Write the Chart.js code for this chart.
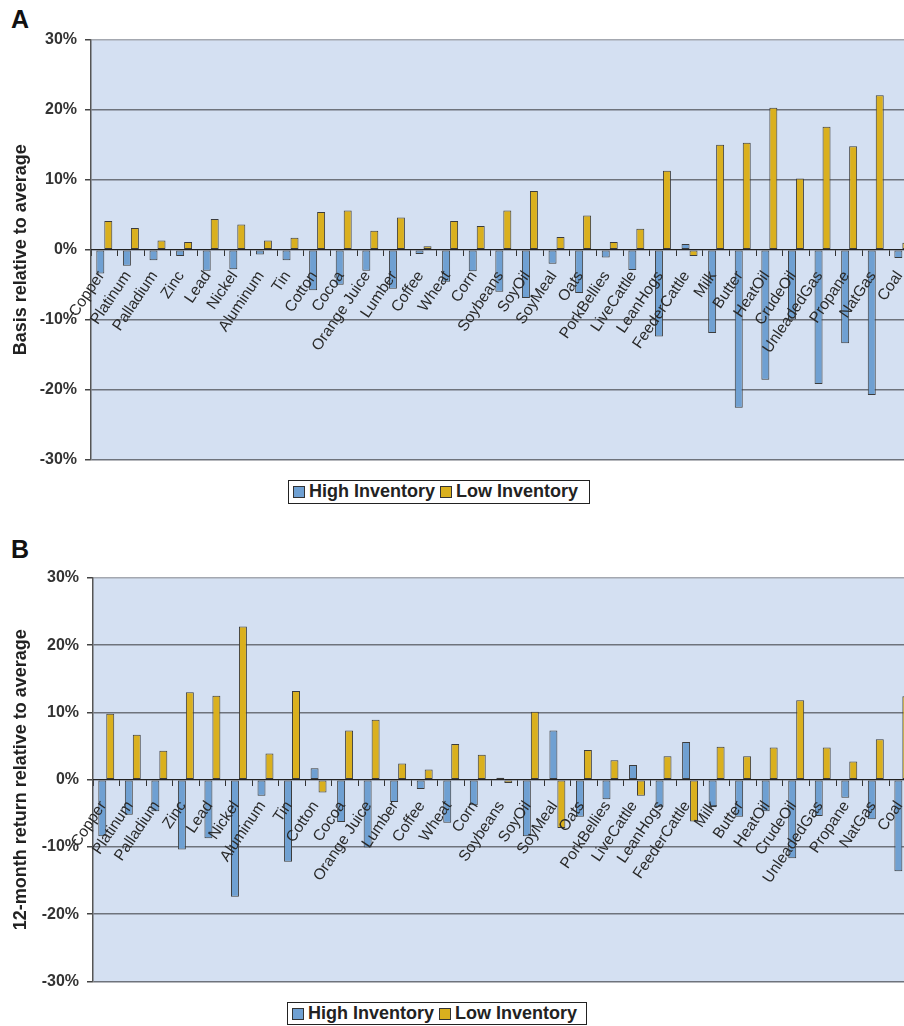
<!DOCTYPE html>
<html lang="en">
<head>
<meta charset="UTF-8">
<title>Inventory - basis and returns</title>
<script src="https://cdn.jsdelivr.net/npm/chart.js@4.4.0/dist/chart.umd.min.js"></script>
<style>
    body {
        margin: 0;
        width: 904px;
        height: 1026px;
        overflow: hidden;
        position: relative;
        background: #fff;
        font-family: "Liberation Sans", Arial, sans-serif;
    }
    .letter {
        position: absolute;
        left: 11px;
        font-size: 25px;
        font-weight: bold;
        color: #111;
        line-height: 1;
    }
    .box {
        position: absolute;
        left: 0;
        width: 930px;
    }
    .legend {
        position: absolute;
        box-sizing: border-box;
        border: 1px solid #222;
        font-size: 18px;
        font-weight: bold;
        color: #222;
        line-height: 20px;
        padding-left: 4px;
        white-space: nowrap;
    }
    .legend i {
        display: inline-block;
        width: 10px;
        height: 10px;
        border: 1px solid #333;
        margin-right: 4px;
        vertical-align: -1px;
    }
</style>
</head>
<body>
    <div class="letter" style="top:7px;">A</div>
    <div class="box" style="top:0;"><canvas id="chartA" width="930" height="477"></canvas></div>
    <div class="legend" style="left:288px;top:480px;width:302px;height:24px;">
        <i style="background:#6FA0D2"></i>High Inventory <i style="background:#DAB01E"></i>Low Inventory
    </div>

    <div class="letter" style="top:537px;">B</div>
    <div class="box" style="top:530px;"><canvas id="chartB" width="930" height="469"></canvas></div>
    <div class="legend" style="left:287px;top:1002px;width:300px;height:23px;">
        <i style="background:#6FA0D2"></i>High Inventory <i style="background:#DAB01E"></i>Low Inventory
    </div>

<script>
    var categories = ['Copper', 'Platinum', 'Palladium', 'Zinc', 'Lead', 'Nickel', 'Aluminum', 'Tin',
        'Cotton', 'Cocoa', 'Orange Juice', 'Lumber', 'Coffee', 'Wheat', 'Corn', 'Soybeans', 'SoyOil',
        'SoyMeal', 'Oats', 'PorkBellies', 'LiveCattle', 'LeanHogs', 'FeederCattle', 'Milk', 'Butter',
        'HeatOil', 'CrudeOil', 'UnleadedGas', 'Propane', 'NatGas', 'Coal'];

    // panel A - basis (%)
    var basisHigh = [-3.4, -2.3, -1.5, -0.9, -3.0, -2.8, -0.7, -1.5, -5.8, -5.0, -3.0, -5.6, -0.6, -4.6,
        -3.1, -6.0, -6.9, -2.0, -6.2, -1.1, -2.9, -12.4, 0.8, -11.9, -22.6, -18.6, -10.0, -19.2, -13.4, -20.8, -1.2];
    var basisLow = [4.1, 3.1, 1.3, 1.1, 4.4, 3.6, 1.3, 1.7, 5.4, 5.6, 2.7, 4.6, 0.5, 4.1,
        3.4, 5.6, 8.4, 1.8, 4.9, 1.1, 3.0, 11.3, -0.9, 15.0, 15.3, 20.3, 10.2, 17.6, 14.8, 22.1, 1.0];

    // panel B - 12-month return (%)
    var returnHigh = [-8.4, -5.2, -4.7, -10.4, -8.7, -17.4, -2.4, -12.2, 1.7, -6.3, -10.1, -3.3, -1.4, -6.4,
        -3.8, 0.3, -8.4, 7.3, -5.5, -2.9, 2.2, -4.1, 5.6, -4.1, -5.5, -4.7, -11.7, -5.4, -2.7, -5.9, -13.6];
    var returnLow = [9.8, 6.7, 4.3, 13.0, 12.5, 22.8, 3.9, 13.2, -1.9, 7.3, 8.9, 2.4, 1.5, 5.3,
        3.7, -0.5, 10.1, -7.2, 4.4, 2.9, -2.4, 3.5, -6.2, 4.9, 3.5, 4.8, 11.8, 4.8, 2.7, 6.0, 12.4];

    var yMin = -30, yMax = 30, yStep = 10;

    Chart.defaults.font.family = '"Liberation Sans", Arial, sans-serif';

    // light blue plot background
    var plotBg = {
        id: 'plotBg',
        beforeDraw: function(chart) {
            var a = chart.chartArea, ctx = chart.ctx;
            ctx.save();
            ctx.fillStyle = '#D4E0F2';
            ctx.fillRect(a.left, a.top, a.right - a.left, a.bottom - a.top);
            ctx.restore();
        }
    };

    function makeChart(id, high, low, yTitle, pad, axisWidth) {
        return new Chart(document.getElementById(id), {
            type: 'bar',
            data: {
                labels: categories,
                datasets: [{
                    label: 'High Inventory',
                    data: high,
                    backgroundColor: '#6FA0D2',
                    borderColor: '#3c3c3c',
                    borderWidth: 1,
                    borderSkipped: false
                }, {
                    label: 'Low Inventory',
                    data: low,
                    backgroundColor: '#DAB01E',
                    borderColor: '#3c3c3c',
                    borderWidth: 1,
                    borderSkipped: false
                }]
            },
            options: {
                responsive: false,
                animation: false,
                datasets: { bar: { categoryPercentage: 0.6, barPercentage: 1.0 } },
                layout: { padding: pad },
                plugins: { legend: { display: false }, tooltip: { enabled: false } },
                scales: {
                    x: {
                        position: { y: 0 },
                        offset: true,
                        grid: { display: true, drawOnChartArea: false, offset: true, tickLength: 6, color: '#333' },
                        border: { color: '#222', width: 1, z: 1 },
                        ticks: {
                            z: 1,
                            autoSkip: false, minRotation: 56, maxRotation: 56, padding: 12, labelOffset: -3,
                            color: '#2a2a2a', font: { size: 15.5 }
                        }
                    },
                    y: {
                        min: yMin, max: yMax,
                        afterFit: function(s) { s.width = axisWidth; },
                        grid: {
                            color: function(c) { return c.tick && c.tick.value === yMax ? '#a4a8b0' : '#6e737c'; },
                            lineWidth: 1.5, tickLength: 6, tickColor: '#444'
                        },
                        border: { color: '#555', width: 1.5 },
                        ticks: {
                            stepSize: yStep, padding: 8, color: '#333',
                            font: { size: 16, weight: 'bold' },
                            callback: function(v) { return v + '%'; }
                        },
                        title: {
                            display: true, text: yTitle, color: '#222',
                            font: { size: 18, weight: 'bold' },
                            padding: { top: 10, bottom: 0 }
                        }
                    }
                }
            },
            plugins: [plotBg]
        });
    }

    makeChart('chartA', basisHigh, basisLow, 'Basis relative to average',
        { top: 40, bottom: 11, left: 0, right: 14 }, 91);
    makeChart('chartB', returnHigh, returnLow, '12-month return relative to average',
        { top: 48, bottom: 14, left: 0, right: 14 }, 93);
</script>
</body>
</html>
